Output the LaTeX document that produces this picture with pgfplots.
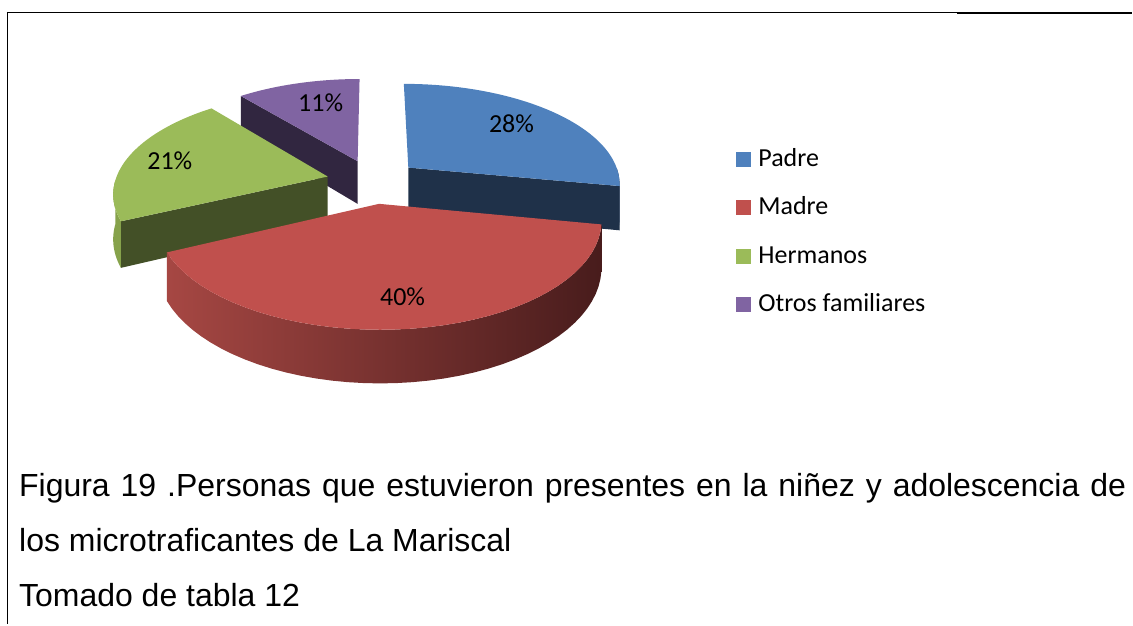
\documentclass[border=0pt]{standalone}
\usepackage{pgfplots}
\pgfplotsset{compat=1.18}
\usepackage{fontspec}
\setmainfont{Liberation Sans}
\newfontfamily\calibri{Carlito}
\definecolor{cP}{HTML}{4F81BD}
\definecolor{cPd}{HTML}{1F3149}
\definecolor{cPs}{HTML}{2C4668}
\definecolor{cM}{HTML}{C0504D}
\definecolor{cML}{HTML}{A64743}
\definecolor{cMR}{HTML}{481C1C}
\definecolor{cH}{HTML}{9BBB59}
\definecolor{cHd}{HTML}{435027}
\definecolor{cHs}{HTML}{86A24B}
\definecolor{cO}{HTML}{8064A2}
\definecolor{cOd}{HTML}{312640}
% data (percent)
\def\vP{28}\def\vM{40}\def\vH{21}\def\vO{11}
% top face of a slice: start angle, end angle, bisector, colour
\newcommand\slicetop[4]{\addplot[fill=#4,draw=none,domain=0:2,samples=81,variable=\q]
 ({SX(TRa(\q),TFa(\q,#1,#2),#3)},{SY(TRa(\q),TFa(\q,#1,#2),#3,0)});}
% outer curved side: start, end, bisector, options
\newcommand\sliceside[4]{\addplot[#4,draw=none,domain=0:3,samples=121,variable=\q]
 ({SX(1,SF(\q,#1,#2),#3)},{SY(1,SF(\q,#1,#2),#3,SZ(\q))});}
% radial cut face: angle, bisector, colour
\newcommand\slicecut[3]{\addplot[fill=#3,draw=none,domain=0:3,samples=4,variable=\q]
 ({SX(CR(\q),#1,#2)},{SY(CR(\q),#1,#2,SZ(\q))});}
\begin{document}
\begin{tikzpicture}
\pgfmathsetmacro\aA{0}
\pgfmathsetmacro\aB{\aA+3.6*\vP}
\pgfmathsetmacro\aC{\aB+3.6*\vM}
\pgfmathsetmacro\aD{\aC+3.6*\vH}
\pgfmathsetmacro\aE{\aD+3.6*\vO}
\pgfmathsetmacro\bP{(\aA+\aB)/2}
\pgfmathsetmacro\bM{(\aB+\aC)/2}
\pgfmathsetmacro\bH{(\aC+\aD)/2}
\pgfmathsetmacro\bO{(\aD+\aE)/2}
\begin{axis}[
  width=1133bp, height=625bp, scale only axis,
  xmin=0, xmax=1133, ymin=0, ymax=625, y dir=reverse,
  hide axis, clip=false,
  declare function={
    WX(\rr,\ff,\bb)=0.22*sin(\bb)+\rr*sin(\ff);
    WY(\rr,\ff,\bb)=0.22*cos(\bb)+\rr*cos(\ff);
    SX(\rr,\ff,\bb)=373.4+212.8*WX(\rr,\ff,\bb)/(1+0.148*WY(\rr,\ff,\bb));
    SY(\rr,\ff,\bb,\zz)=181.5-(100*WY(\rr,\ff,\bb)+44*\zz)/(1+0.148*WY(\rr,\ff,\bb));
    TFa(\q,\aa,\cc)=ifthenelse(\q<1,\aa+\q*(\cc-\aa),\cc);
    TRa(\q)=ifthenelse(\q<1,1,2-\q);
    SF(\q,\aa,\cc)=ifthenelse(\q<1,\aa+\q*(\cc-\aa),ifthenelse(\q<2,\cc,\cc-(\q-2)*(\cc-\aa)));
    SZ(\q)=ifthenelse(\q<1,0,ifthenelse(\q<2,1-\q,-1));
    CR(\q)=ifthenelse(\q<1,\q,ifthenelse(\q<2,1,3-\q));
  },
]
\path (axis cs:0,0) rectangle (axis cs:1133,625);
% frame
\draw[black, line width=1.2bp] (axis cs:7,12.5) -- (axis cs:958,12.5);
\draw[black, line width=2.4bp] (axis cs:958,13) -- (axis cs:1133,13);
\draw[black, line width=1.5bp] (axis cs:7.5,12) -- (axis cs:7.5,625);
% Otros familiares
\slicecut{\aD}{\bO}{cOd}
\slicetop{\aD}{\aE}{\bO}{cO}
% Hermanos
\slicecut{\aC}{\bH}{cHd}
\sliceside{\aC}{268}{\bH}{fill=cHs}
\slicetop{\aC}{\aD}{\bH}{cH}
% Padre
\sliceside{90}{\aB}{\bP}{fill=cPs}
\slicecut{\aB}{\bP}{cPd}
\slicetop{\aA}{\aB}{\bP}{cP}
% Madre
\sliceside{\aB}{\aC}{\bM}{left color=cML, right color=cMR}
\slicetop{\aB}{\aC}{\bM}{cM}
% labels
\begin{scope}[every node/.style={font=\calibri\fontsize{26bp}{30bp}\selectfont, inner sep=0pt}]
\node at (axis cs:512,124) {28\%};
\node at (axis cs:403,297) {40\%};
\node at (axis cs:170,161) {21\%};
\node at (axis cs:321,103) {11\%};
\end{scope}
% legend
\begin{scope}[every node/.style={font=\calibri\fontsize{26bp}{30bp}\selectfont, inner sep=0pt, anchor=base west}]
\fill[cP] (axis cs:737,152.5) rectangle (axis cs:752,167.5);
\node at (axis cs:759,167) {Padre};
\fill[cM] (axis cs:737,200.5) rectangle (axis cs:752,215.5);
\node at (axis cs:759,215) {Madre};
\fill[cH] (axis cs:737,249) rectangle (axis cs:752,264);
\node at (axis cs:759,264) {Hermanos};
\fill[cO] (axis cs:737,297.5) rectangle (axis cs:752,312.5);
\node at (axis cs:759,312) {Otros familiares};
\end{scope}
% caption
\begin{scope}[every node/.style={font=\fontsize{32bp}{38bp}\selectfont, inner sep=0pt, anchor=base west}]
\node at (axis cs:19,497) {\makebox[1108bp][s]{Figura 19 .Personas que estuvieron presentes en la niñez y adolescencia de}};
\node at (axis cs:19,552) {los microtraficantes de La Mariscal};
\node at (axis cs:19,607) {Tomado de tabla 12};
\end{scope}
\end{axis}
\end{tikzpicture}
\end{document}
